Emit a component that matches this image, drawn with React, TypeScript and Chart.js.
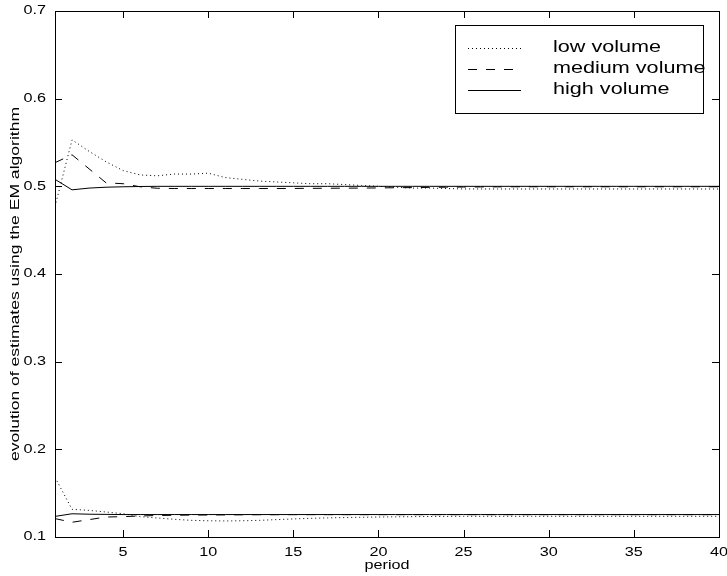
import { useEffect, useRef } from "react";
import { Chart, registerables } from "chart.js";

Chart.register(...registerables);

const periods = [1, 2, 3, 4, 5, 6, 7, 8, 9, 10, 11, 12, 13, 14, 15, 16, 17, 18, 19, 20, 21, 22, 23, 24, 25, 26, 27, 28, 29, 30, 31, 32, 33, 34, 35, 36, 37, 38, 39, 40];

const lowUpper = [0.477, 0.553, 0.54, 0.528, 0.518, 0.513, 0.512, 0.514, 0.514, 0.515, 0.51, 0.508, 0.506, 0.505, 0.504, 0.503, 0.503, 0.502, 0.501, 0.5, 0.499, 0.498, 0.498, 0.4975, 0.497, 0.497, 0.497, 0.497, 0.497, 0.497, 0.497, 0.497, 0.497, 0.497, 0.497, 0.497, 0.497, 0.497, 0.497, 0.497];
const mediumUpper = [0.527, 0.536, 0.52, 0.504, 0.503, 0.4995, 0.4978, 0.4975, 0.4975, 0.4975, 0.4975, 0.4975, 0.4975, 0.4975, 0.4976, 0.4977, 0.4978, 0.4979, 0.498, 0.4982, 0.4984, 0.4986, 0.4988, 0.499, 0.4992, 0.4993, 0.4994, 0.4995, 0.4995, 0.4995, 0.4995, 0.4995, 0.4995, 0.4995, 0.4995, 0.4995, 0.4995, 0.4995, 0.4995, 0.4995];
const highUpper = [0.508, 0.496, 0.498, 0.499, 0.4995, 0.4998, 0.5, 0.5, 0.5, 0.5, 0.5, 0.5, 0.5, 0.5, 0.5, 0.5, 0.5, 0.5, 0.5, 0.5, 0.5, 0.5, 0.5, 0.5, 0.5, 0.5, 0.5, 0.5, 0.5, 0.5, 0.5, 0.5, 0.5, 0.5, 0.5, 0.5, 0.5, 0.5, 0.5, 0.5];

const lowLower = [0.168, 0.1316, 0.1304, 0.1285, 0.1266, 0.1232, 0.1217, 0.1202, 0.119, 0.1185, 0.1183, 0.1185, 0.119, 0.1198, 0.1206, 0.1213, 0.1218, 0.1222, 0.1225, 0.1228, 0.123, 0.1232, 0.1234, 0.1235, 0.1236, 0.1236, 0.1236, 0.1236, 0.1236, 0.1236, 0.1236, 0.1236, 0.1236, 0.1236, 0.1236, 0.1236, 0.1236, 0.1236, 0.1236, 0.1236];
const mediumLower = [0.121, 0.1168, 0.1198, 0.1228, 0.1232, 0.124, 0.1245, 0.1248, 0.125, 0.1251, 0.1252, 0.1253, 0.1254, 0.1254, 0.1255, 0.1255, 0.1255, 0.1255, 0.1255, 0.1255, 0.1255, 0.1255, 0.1255, 0.1255, 0.1255, 0.1255, 0.1255, 0.1255, 0.1255, 0.1255, 0.1255, 0.1255, 0.1255, 0.1255, 0.1255, 0.1255, 0.1255, 0.1255, 0.1255, 0.1255];
const highLower = [0.1235, 0.1265, 0.126, 0.1258, 0.1256, 0.1256, 0.1256, 0.1256, 0.1256, 0.1256, 0.1256, 0.1256, 0.1256, 0.1256, 0.1256, 0.1256, 0.1256, 0.1256, 0.1256, 0.1256, 0.1256, 0.1256, 0.1256, 0.1256, 0.1256, 0.1256, 0.1256, 0.1256, 0.1256, 0.1256, 0.1256, 0.1256, 0.1256, 0.1256, 0.1256, 0.1256, 0.1256, 0.1256, 0.1256, 0.1256];

const xTickValues = [5, 10, 15, 20, 25, 30, 35, 40];
const xTickLabels = ["5", "10", "15", "20", "25", "30", "35", "40"];
const yTickValues = [0.1, 0.2, 0.3, 0.4, 0.5, 0.6, 0.7];
const yTickLabels = ["0.1", "0.2", "0.3", "0.4", "0.5", "0.6", "0.7"];

const seriesNames = ["low volume", "medium volume", "high volume"];
const xTitle = "period";
const yTitle = "evolution of estimates using the EM algorithm";

const DOTTED = [1, 3];
const DASHED = [9, 9];
const SOLID: number[] = [];
const seriesDashes = [DOTTED, DASHED, SOLID];

const FONT_FAMILY = "'Liberation Sans', Arial, Helvetica, sans-serif";
const SX = 1.35;

function stretchedText(
  ctx: CanvasRenderingContext2D,
  text: string,
  x: number,
  y: number,
  align: CanvasTextAlign,
  size: number,
  rotate = 0
) {
  ctx.save();
  ctx.translate(x, y);
  if (rotate) ctx.rotate(rotate);
  ctx.scale(SX, 1);
  ctx.font = `${size}px ${FONT_FAMILY}`;
  ctx.textAlign = align;
  ctx.textBaseline = "middle";
  ctx.fillStyle = "#000";
  ctx.fillText(text, 0, 0);
  ctx.restore();
}

const framePlugin = {
  id: "matlabFrame",
  afterDraw(chart: any) {
    const ctx: CanvasRenderingContext2D = chart.ctx;
    const { left, right, top, bottom } = chart.chartArea;
    const xs = chart.scales.x;
    const ys = chart.scales.y;
    ctx.save();
    ctx.strokeStyle = "#000";
    ctx.lineWidth = 1;
    ctx.setLineDash([]);
    ctx.strokeRect(Math.round(left) + 0.5, Math.round(top) + 0.5, Math.round(right - left), Math.round(bottom - top));
    const tl = 7;
    ctx.beginPath();
    yTickValues.forEach((v) => {
      const py = Math.round(ys.getPixelForValue(v)) + 0.5;
      ctx.moveTo(left, py);
      ctx.lineTo(left + tl, py);
      ctx.moveTo(right, py);
      ctx.lineTo(right - tl, py);
    });
    xTickValues.forEach((v) => {
      const px = Math.round(xs.getPixelForValue(v)) + 0.5;
      ctx.moveTo(px, bottom);
      ctx.lineTo(px, bottom - tl);
      ctx.moveTo(px, top);
      ctx.lineTo(px, top + tl);
    });
    ctx.stroke();
    ctx.restore();

    yTickValues.forEach((v, i) => {
      stretchedText(ctx, yTickLabels[i], left - 9, ys.getPixelForValue(v), "right", 12);
    });
    xTickValues.forEach((v, i) => {
      stretchedText(ctx, xTickLabels[i], xs.getPixelForValue(v), bottom + 16, "center", 12);
    });
    stretchedText(ctx, xTitle, (left + right) / 2, bottom + 29, "center", 12);
    stretchedText(ctx, yTitle, 15, (top + bottom) / 2 + 10, "center", 13, -Math.PI / 2);

    const bx = 455, by = 25, bw = 248, bh = 88;
    ctx.save();
    ctx.fillStyle = "#fff";
    ctx.fillRect(bx, by, bw, bh);
    ctx.strokeStyle = "#000";
    ctx.lineWidth = 1;
    ctx.strokeRect(bx + 0.5, by + 0.5, bw, bh);
    const rows = [48, 69, 90];
    rows.forEach((ry, i) => {
      ctx.beginPath();
      ctx.setLineDash(seriesDashes[i]);
      ctx.moveTo(468, ry + 0.5);
      ctx.lineTo(521, ry + 0.5);
      ctx.stroke();
    });
    ctx.restore();
    rows.forEach((ry, i) => {
      stretchedText(ctx, seriesNames[i], 553, ry, "left", 16);
    });
  },
};

function toPoints(values: number[]) {
  return periods.map((p, i) => ({ x: p, y: values[i] }));
}

export default function App() {
  const canvasRef = useRef<HTMLCanvasElement | null>(null);

  useEffect(() => {
    if (!canvasRef.current) return;
    const mk = (label: string, values: number[], dash: number[]) => ({
      label,
      data: toPoints(values),
      borderColor: "#000",
      borderWidth: 1,
      borderDash: dash,
      pointRadius: 0,
      fill: false,
      tension: 0,
    });
    const chart = new Chart(canvasRef.current, {
      type: "line",
      data: {
        datasets: [
          mk(seriesNames[0], lowUpper, DOTTED),
          mk(seriesNames[1], mediumUpper, DASHED),
          mk(seriesNames[2], highUpper, SOLID),
          mk(seriesNames[0], lowLower, DOTTED),
          mk(seriesNames[1], mediumLower, DASHED),
          mk(seriesNames[2], highLower, SOLID),
        ],
      },
      options: {
        animation: false,
        responsive: false,
        devicePixelRatio: 1,
        layout: { padding: { left: 55, right: 8, top: 11, bottom: 39 } },
        plugins: { legend: { display: false }, tooltip: { enabled: false } },
        scales: {
          x: {
            type: "linear",
            min: 1,
            max: 40,
            grid: { display: false },
            border: { display: false },
            ticks: { display: false },
            afterFit: (s: any) => {
              s.height = 0;
            },
          },
          y: {
            type: "linear",
            min: 0.1,
            max: 0.7,
            grid: { display: false },
            border: { display: false },
            ticks: { display: false },
            afterFit: (s: any) => {
              s.width = 0;
            },
          },
        },
      },
      plugins: [framePlugin],
    });
    return () => chart.destroy();
  }, []);

  return (
    <div style={{ position: "absolute", left: 0, top: 0, width: 727, height: 576, background: "#fff" }}>
      <canvas ref={canvasRef} width={727} height={576} />
    </div>
  );
}
